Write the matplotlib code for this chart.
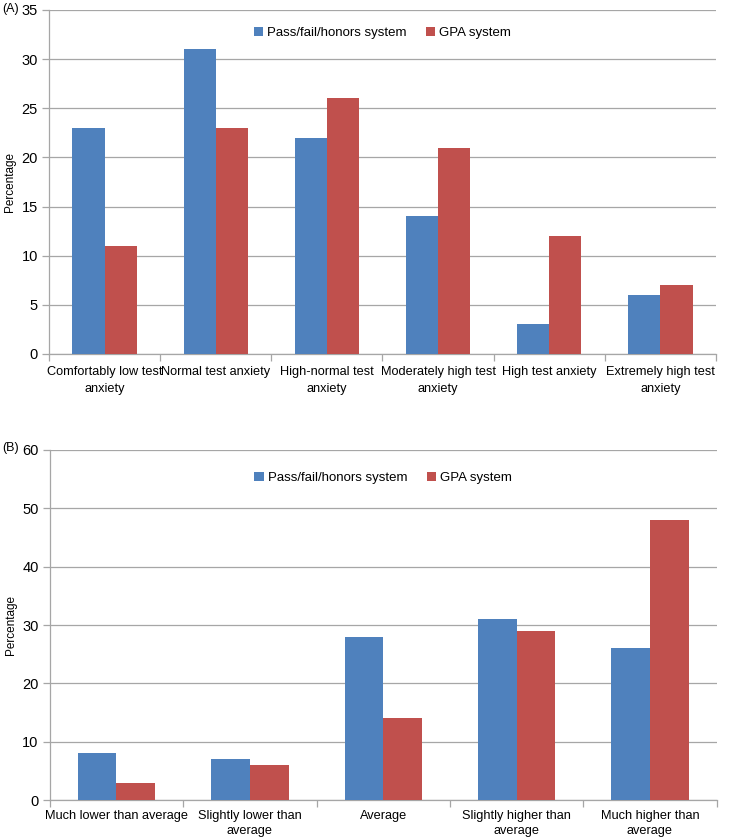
import matplotlib
matplotlib.use("Agg")
import matplotlib.pyplot as plt
import numpy as np

plt.rcParams['font.family'] = ["Liberation Sans", "DejaVu Sans"]

cats_a = ["Comfortably low test\nanxiety", "Normal test anxiety", "High-normal test\nanxiety",
          "Moderately high test\nanxiety", "High test anxiety", "Extremely high test\nanxiety"]
pass_a = [23, 31, 22, 14, 3, 6]
gpa_a = [11, 23, 26, 21, 12, 7]

cats_b = ["Much lower than average", "Slightly lower than\naverage", "Average",
          "Slightly higher than\naverage", "Much higher than\naverage"]
pass_b = [8, 7, 28, 31, 26]
gpa_b = [3, 6, 14, 29, 48]

series_names = ["Pass/fail/honors system", "GPA system"]
colors = ["#4F81BD", "#C0504D"]

fig = plt.figure(figsize=(7.32, 8.4), dpi=100)
axA = fig.add_axes([0.067, 0.5786, 0.911, 0.4095])
axB = fig.add_axes([0.068, 0.0476, 0.911, 0.4167])

def draw(ax, cats, p, g, ymax, step, legend_y, ls, pad):
    n = len(cats)
    x = np.arange(n)
    w = 0.29
    ax.bar(x - w/2, p, w, color=colors[0], label=series_names[0], zorder=3)
    ax.bar(x + w/2, g, w, color=colors[1], label=series_names[1], zorder=3)
    ax.set_xlim(-0.5, n - 0.5)
    ax.set_ylim(0, ymax)
    ax.set_yticks(np.arange(0, ymax + 1, step))
    ax.yaxis.grid(True, color="#A6A6A6", linewidth=0.9, zorder=0)
    ax.set_xticks(x)
    ax.set_xticklabels(cats, fontsize=9.2, linespacing=ls)
    ax.set_xticks(np.arange(-0.5, n, 1), minor=True)
    ax.tick_params(axis='x', which='major', length=0, pad=pad)
    ax.tick_params(axis='x', which='minor', length=5, color="#A6A6A6", width=0.9)
    ax.tick_params(axis='y', length=5, color="#A6A6A6", width=0.9, labelsize=10.5, pad=3)
    for s in ["top", "right"]:
        ax.spines[s].set_visible(False)
    for s in ["left", "bottom"]:
        ax.spines[s].set_color("#A6A6A6")
        ax.spines[s].set_linewidth(0.9)
    ax.set_ylabel("Percentage", fontsize=8.5, labelpad=4)
    ax.legend(loc="center", bbox_to_anchor=(0.5, legend_y), ncol=2, frameon=False,
              fontsize=9.5, handlelength=0.7, handleheight=0.7, handletextpad=0.3,
              columnspacing=1.5)

draw(axA, cats_a, pass_a, gpa_a, 35, 5, 0.933, 1.55, 9)
draw(axB, cats_b, pass_b, gpa_b, 60, 10, 0.92, 1.35, 7)

fig.text(0.003, 0.996, "(A)", fontsize=9, va="top")
fig.text(0.003, 0.474, "(B)", fontsize=9, va="top")

fig.savefig("out.png", dpi=100)
